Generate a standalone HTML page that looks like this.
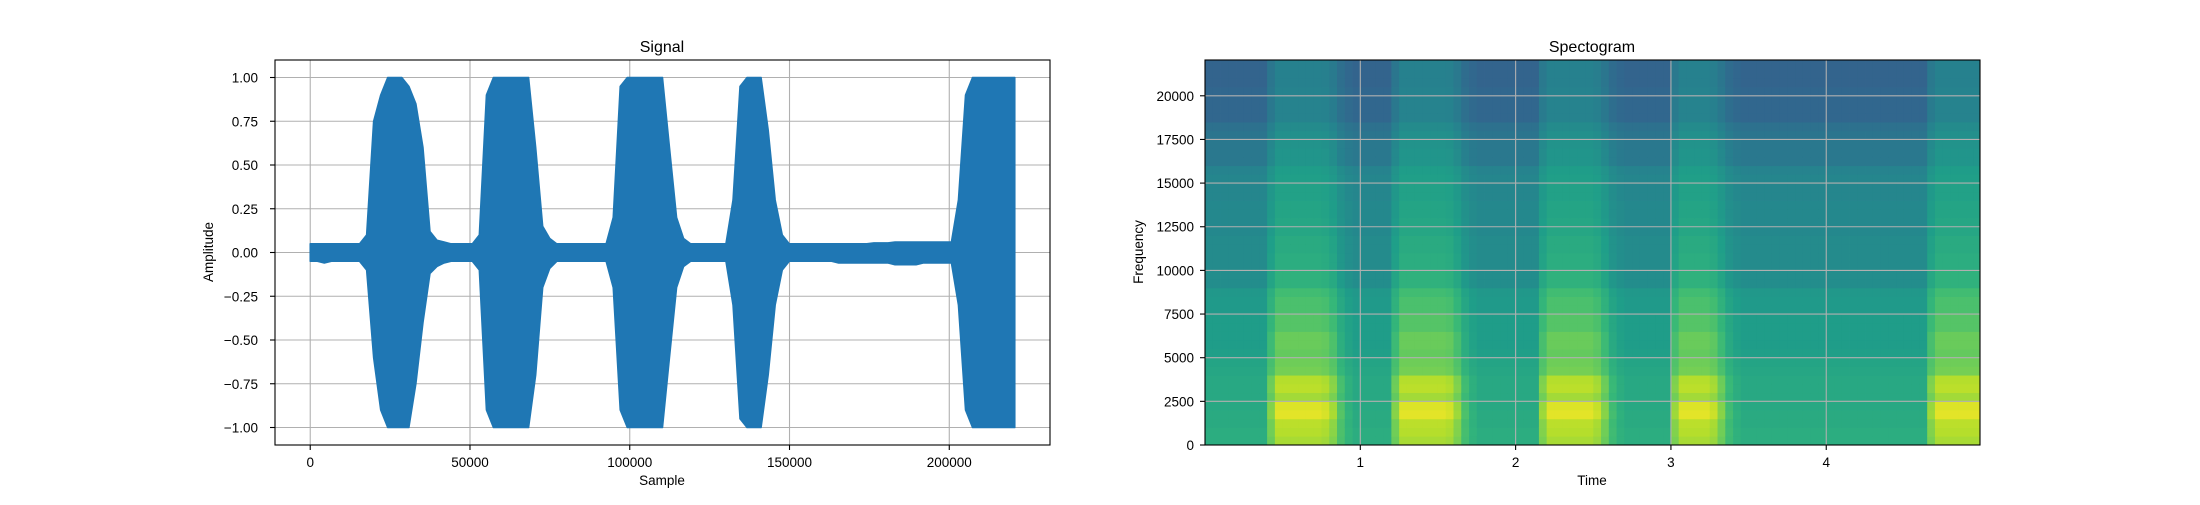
<!DOCTYPE html>
<html><head><meta charset="utf-8"><style>
body{margin:0;background:#fff}
svg text{font-family:"Liberation Sans","DejaVu Sans",sans-serif;fill:#000}
</style></head><body>
<svg id="fig" width="2200" height="500" xmlns="http://www.w3.org/2000/svg">
<rect width="2200" height="500" fill="#fff"/>
<g id="sig"></g>
<g id="spec"></g>
</svg>
<script>
// ---- Signal data (envelope every 2205 samples) ----
const sampleStep = 2205;
const upperEnv = [0.05,0.05,0.05,0.05,0.05,0.05,0.05,0.05,0.1,0.75,0.9,1,1,1,0.95,0.85,0.6,0.12,0.07,0.06,0.05,0.05,0.05,0.05,
0.1,0.9,1,1,1,1,1,1,0.6,0.15,0.08,0.05,0.05,0.05,0.05,0.05,0.05,0.05,0.05,
0.2,0.95,1,1,1,1,1,1,0.6,0.2,0.08,0.05,0.05,0.05,0.05,0.05,0.05,
0.3,0.95,1,1,1,0.7,0.3,0.1,0.05,0.05,0.05,0.05,0.05,0.05,0.05,0.05,0.05,0.05,0.05,0.05,0.055,0.055,0.055,0.06,0.06,0.06,0.06,0.06,0.06,0.06,0.06,0.06,
0.3,0.9,1,1,1,1,1,1,1];
const lowerEnv = [-0.05,-0.05,-0.06,-0.05,-0.05,-0.05,-0.05,-0.05,-0.1,-0.6,-0.9,-1,-1,-1,-1,-0.75,-0.4,-0.12,-0.08,-0.06,-0.05,-0.05,-0.05,-0.05,
-0.1,-0.9,-1,-1,-1,-1,-1,-1,-0.7,-0.2,-0.09,-0.05,-0.05,-0.05,-0.05,-0.05,-0.05,-0.05,-0.05,
-0.2,-0.9,-1,-1,-1,-1,-1,-1,-0.6,-0.2,-0.08,-0.05,-0.05,-0.05,-0.05,-0.05,-0.05,
-0.3,-0.95,-1,-1,-1,-0.7,-0.3,-0.1,-0.05,-0.05,-0.05,-0.05,-0.05,-0.05,-0.05,-0.06,-0.06,-0.06,-0.06,-0.06,-0.06,-0.06,-0.06,-0.07,-0.07,-0.07,-0.07,-0.06,-0.06,-0.06,-0.06,-0.06,
-0.3,-0.9,-1,-1,-1,-1,-1,-1,-1];
const sigXTicks = [0,50000,100000,150000,200000];
const sigYTicks = [-1,-0.75,-0.5,-0.25,0,0.25,0.5,0.75,1];

// ---- Spectrogram data ----
const specTimeStep = 0.05;           // seconds per column
const specFreqStep = 500;            // Hz per row
const speechEnergy = [0,0,0,0,0,0,0,0,0.6,1,1,1,1,1,1,0.95,0.75,0.35,0.12,0,0,0,0,0,
0.6,1,1,1,1,1,1,0.95,0.7,0.3,0.1,0,0,0,0,0,0,0,0,
0.7,1,1,1,1,1,1,0.9,0.6,0.25,0.08,0,0,0,0,0,0,
0.7,1,1,1,1,0.9,0.6,0.25,0.08,0,0,0,0,0,0,0,0,0,0,0,0,0,0,0,0,0,0,0,0,0,0,0,0,
0.7,1,1,1,1,1,1];
const baseLevel = [0.62,0.62,0.61,0.61,0.6,0.6,0.6,0.6,0.59,0.58,0.56,0.55,0.55,0.55,0.55,0.54,0.54,0.53,
0.49,0.49,0.48,0.48,0.48,0.48,0.47,0.47,0.47,0.47,0.46,0.46,0.46,0.45,0.4,0.4,0.4,0.39,0.37,0.33,0.33,0.33,0.33,0.32,0.32,0.32,0.32];
const speechBoost = [0.25,0.27,0.29,0.35,0.35,0.26,0.3,0.29,0.2,0.2,0.2,0.22,0.22,0.18,0.18,0.17,0.17,0.16,
0.15,0.15,0.14,0.14,0.13,0.13,0.12,0.12,0.11,0.11,0.11,0.11,0.1,0.1,0.12,0.12,0.11,0.11,0.11,0.12,0.12,0.12,0.12,0.12,0.12,0.12,0.12];
const specXTicks = [1,2,3,4];
const specYTicks = [0,2500,5000,7500,10000,12500,15000,17500,20000];

const NS='http://www.w3.org/2000/svg';
function mk(parent,tag,attrs,text){const e=document.createElementNS(NS,tag);for(const k in attrs)e.setAttribute(k,attrs[k]);if(text!==undefined)e.textContent=text;parent.appendChild(e);return e;}
const fmtMinus = s => s.replace('-','\u2212');

// ---------- Signal ----------
const sg=document.getElementById('sig');
const L1={x0:275,x1:1050,y0:60,y1:445};
const N=220500;
const sx=v=>L1.x0+(v+0.05*N)/(1.1*N)*(L1.x1-L1.x0);
const sy=v=>L1.y1-(v+1.1)/2.2*(L1.y1-L1.y0);
sigXTicks.forEach(t=>{
  const g=mk(sg,'line',{x1:sx(t),x2:sx(t),y1:L1.y0,y2:L1.y1,stroke:'#b0b0b0','stroke-width':1.1});
  
  
});
sigYTicks.forEach(t=>{
  const g=mk(sg,'line',{x1:L1.x0,x2:L1.x1,y1:sy(t),y2:sy(t),stroke:'#b0b0b0','stroke-width':1.1});
  
  
});
let pts=[];
upperEnv.forEach((v,i)=>pts.push(sx(Math.min(i*sampleStep,N)).toFixed(1)+','+sy(v).toFixed(1)));
for(let i=lowerEnv.length-1;i>=0;i--)pts.push(sx(Math.min(i*sampleStep,N)).toFixed(1)+','+sy(lowerEnv[i]).toFixed(1));
const wave=mk(sg,'polygon',{points:pts.join(' '),fill:'#1f77b4',stroke:'#1f77b4','stroke-width':1.5,'stroke-linejoin':'round'});


const fr1=mk(sg,'rect',{x:L1.x0,y:L1.y0,width:L1.x1-L1.x0,height:L1.y1-L1.y0,fill:'none',stroke:'#000','stroke-width':1.1});


sigXTicks.forEach(t=>{
  mk(sg,'line',{x1:sx(t),x2:sx(t),y1:L1.y1,y2:L1.y1+5,stroke:'#000','stroke-width':1.1});
  const tx=mk(sg,'text',{x:sx(t),y:467,'font-size':13.5,'text-anchor':'middle'},String(t));
  
  
});
sigYTicks.forEach(t=>{
  mk(sg,'line',{x1:L1.x0-5,x2:L1.x0,y1:sy(t),y2:sy(t),stroke:'#000','stroke-width':1.1});
  const tx=mk(sg,'text',{x:258,y:sy(t)+5,'font-size':13.5,'text-anchor':'end'},fmtMinus(t.toFixed(2)));
  
  
});
let e=mk(sg,'text',{x:662,y:52,'font-size':16,'text-anchor':'middle'},'Signal');


e=mk(sg,'text',{x:662,y:485,'font-size':13.5,'text-anchor':'middle'},'Sample');


e=mk(sg,'text',{x:0,y:0,'font-size':13.5,'text-anchor':'middle',transform:'translate(213,252) rotate(-90)'},'Amplitude');



// ---------- Spectrogram ----------
const sp=document.getElementById('spec');
const L2={x0:1205,x1:1980,y0:60,y1:445};
const TMAX=4.99, FMAX=22050;
const tx2=v=>L2.x0+v/TMAX*(L2.x1-L2.x0);
const fy=v=>L2.y1-v/FMAX*(L2.y1-L2.y0);
const VIR=[[68,1,84],[72,40,120],[62,74,137],[49,104,142],[38,130,142],[31,158,137],[53,183,121],[109,205,89],[180,222,44],[253,231,37]];
function viridis(v){v=Math.max(0,Math.min(1,v));const p=v*9,i=Math.min(8,Math.floor(p)),f=p-i;const a=VIR[i],b=VIR[i+1];return 'rgb('+a.map((c,k)=>Math.round(c+(b[k]-c)*f)).join(',')+')';}
const cells=mk(sp,'g',{});


speechEnergy.forEach((en,c)=>{
  const xa=tx2(c*specTimeStep), xb=tx2(Math.min((c+1)*specTimeStep,TMAX));
  if(xb<=xa)return;
  baseLevel.forEach((b,r)=>{
    const ya=fy(Math.min((r+1)*specFreqStep,FMAX)), yb=fy(r*specFreqStep);
    if(yb<=ya)return;
    const cell=mk(cells,'rect',{x:xa.toFixed(2),y:ya.toFixed(2),width:(xb-xa+0.4).toFixed(2),height:(yb-ya+0.4).toFixed(2),fill:viridis(b+en*speechBoost[r])});
    
    
  });
});
specXTicks.forEach(t=>{
  const g=mk(sp,'line',{x1:tx2(t),x2:tx2(t),y1:L2.y0,y2:L2.y1,stroke:'#b0b0b0','stroke-width':1.1});
  
  
});
specYTicks.forEach(t=>{
  const g=mk(sp,'line',{x1:L2.x0,x2:L2.x1,y1:fy(t),y2:fy(t),stroke:'#b0b0b0','stroke-width':1.1});
  
  
});
const fr2=mk(sp,'rect',{x:L2.x0,y:L2.y0,width:L2.x1-L2.x0,height:L2.y1-L2.y0,fill:'none',stroke:'#000','stroke-width':1.1});


specXTicks.forEach(t=>{
  mk(sp,'line',{x1:tx2(t),x2:tx2(t),y1:L2.y1,y2:L2.y1+5,stroke:'#000','stroke-width':1.1});
  const tt=mk(sp,'text',{x:tx2(t),y:467,'font-size':13.5,'text-anchor':'middle'},String(t));
  
  
});
specYTicks.forEach(t=>{
  mk(sp,'line',{x1:L2.x0-5,x2:L2.x0,y1:fy(t),y2:fy(t),stroke:'#000','stroke-width':1.1});
  const tt=mk(sp,'text',{x:1194,y:fy(t)+5,'font-size':13.5,'text-anchor':'end'},String(t));
  
  
});
e=mk(sp,'text',{x:1592,y:52,'font-size':16,'text-anchor':'middle'},'Spectogram');


e=mk(sp,'text',{x:1592,y:485,'font-size':13.5,'text-anchor':'middle'},'Time');


e=mk(sp,'text',{x:0,y:0,'font-size':13.5,'text-anchor':'middle',transform:'translate(1143,252) rotate(-90)'},'Frequency');


</script>
</body></html>
